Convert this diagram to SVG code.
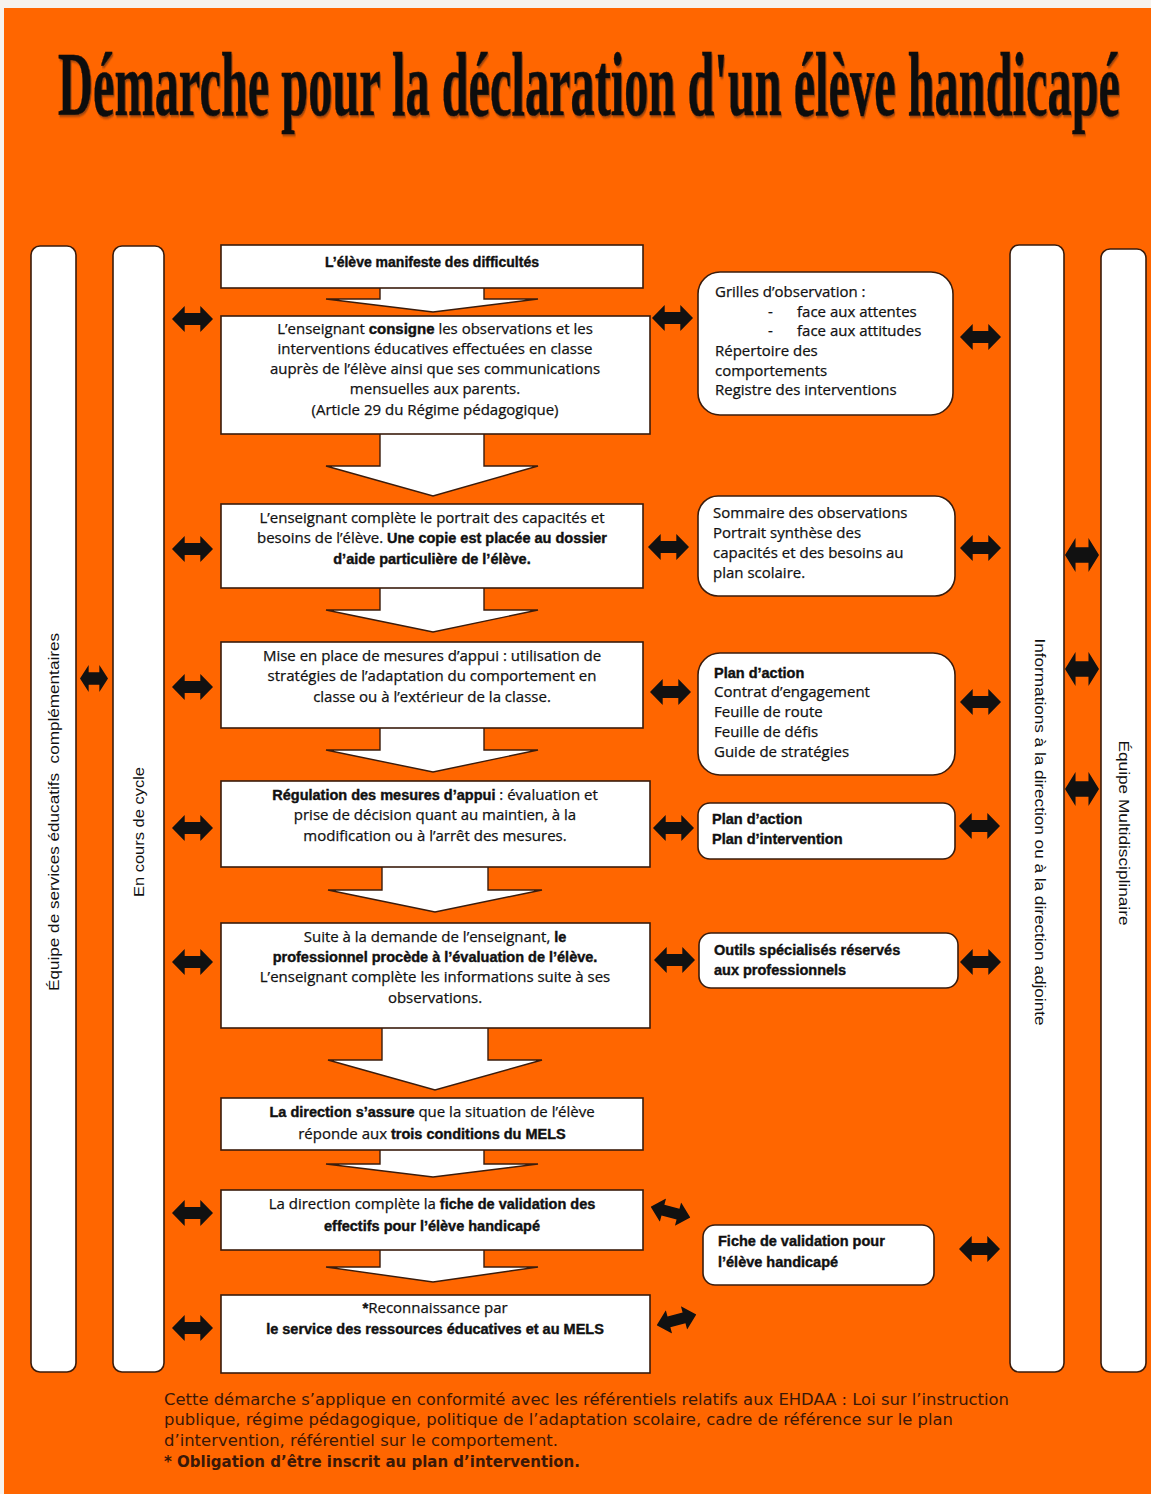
<svg xmlns="http://www.w3.org/2000/svg" width="1151" height="1494" viewBox="0 0 1151 1494">
<style>
.bg{fill:#FF6600}
.bx{fill:#fff;stroke:#3a1c0c;stroke-width:1.6}
.col{fill:#fff;stroke:#3a1c0c;stroke-width:1.6}
.ar{fill:#fff;stroke:#3a1c0c;stroke-width:1.4;stroke-linejoin:miter}
.t{font-family:"Open Sans","Liberation Sans",sans-serif;font-size:15px;fill:#111;stroke:#111;stroke-width:0.25}
.c{text-anchor:middle}
.b{font-family:"Liberation Sans",Arial,sans-serif;font-weight:700;stroke:#111;stroke-width:0.4;fill:#111}
.vt{font-family:"Liberation Sans",Arial,sans-serif;font-size:15px;fill:#111;text-anchor:middle}
.note{font-family:"DejaVu Sans Condensed","Open Sans",sans-serif;font-size:15.5px;fill:#3a1808}
.title{font-family:"Liberation Serif","Times New Roman",serif;font-weight:700;font-size:92px;fill:#111;stroke:#111;stroke-width:0.6}
</style>
<defs>
<symbol id="da" viewBox="0 0 42 26" preserveAspectRatio="none">
<path d="M0,13 L13,0 L13,7 L29,7 L29,0 L42,13 L29,26 L29,19 L13,19 L13,26 Z" fill="#111"/>
</symbol>
<filter id="sh" x="-5%" y="-20%" width="110%" height="140%">
<feDropShadow dx="2" dy="2" stdDeviation="1" flood-color="#5a2a10" flood-opacity="0.6"/>
</filter>
</defs>
<rect x="0" y="0" width="1151" height="1494" fill="#f6f3ee"/>
<rect class="bg" x="4" y="8" width="1147" height="1486"/>

<g id="title">
<text class="title" transform="translate(58,115) scale(0.5,1)" x="0" y="0" textLength="2124" lengthAdjust="spacingAndGlyphs" filter="url(#sh)">Démarche pour la déclaration d'un élève handicapé</text>
</g>

<g id="col-equipe-services">
<rect class="col" x="31" y="246" width="45" height="1126" rx="9"/>
<text class="vt" transform="translate(59,812) rotate(-90)" textLength="358" lengthAdjust="spacingAndGlyphs">Équipe de services éducatifs&#160; complémentaires</text>
</g>
<g id="col-cycle">
<rect class="col" x="113" y="246" width="51" height="1126" rx="9"/>
<text class="vt" transform="translate(144,832) rotate(-90)" textLength="130" lengthAdjust="spacingAndGlyphs">En cours de cycle</text>
</g>
<g id="col-direction">
<rect class="col" x="1010" y="245" width="54" height="1127" rx="9"/>
<text class="vt" transform="translate(1035,832) rotate(90)" textLength="387" lengthAdjust="spacingAndGlyphs">Informations à la direction ou à la direction adjointe</text>
</g>
<g id="col-multi">
<rect class="col" x="1101" y="249" width="45" height="1123" rx="9"/>
<text class="vt" transform="translate(1119,833) rotate(90)" textLength="185" lengthAdjust="spacingAndGlyphs">Équipe Multidisciplinaire</text>
</g>

<g id="connectors">
<path class="ar" d="M380,288 L380,299 L326,299 L433,312 L538,299 L484,299 L484,288"/>
<path class="ar" d="M380,434 L380,466 L326,466 L433,496 L538,466 L484,466 L484,434"/>
<path class="ar" d="M380,588 L380,610 L326,610 L433,632 L538,610 L484,610 L484,588"/>
<path class="ar" d="M380,728 L380,750 L326,750 L433,772 L538,750 L484,750 L484,728"/>
<path class="ar" d="M382,867 L382,890 L328,890 L435,912 L542,890 L488,890 L488,867"/>
<path class="ar" d="M382,1028 L382,1060 L328,1060 L435,1090 L542,1060 L488,1060 L488,1028"/>
<path class="ar" d="M380,1150 L380,1164 L326,1164 L433,1177 L538,1164 L484,1164 L484,1150"/>
<path class="ar" d="M380,1250 L380,1267 L326,1267 L433,1282 L538,1267 L484,1267 L484,1250"/>
<use href="#da" x="80" y="665" width="28" height="27"/>
<use href="#da" x="172" y="306" width="41" height="26"/>
<use href="#da" x="172" y="536" width="41" height="26"/>
<use href="#da" x="172" y="674" width="41" height="26"/>
<use href="#da" x="172" y="815" width="41" height="26"/>
<use href="#da" x="172" y="949" width="41" height="26"/>
<use href="#da" x="172" y="1200" width="41" height="26"/>
<use href="#da" x="172" y="1315" width="41" height="26"/>
<use href="#da" x="652" y="305" width="41" height="26"/>
<use href="#da" x="648" y="534" width="41" height="26"/>
<use href="#da" x="650" y="679" width="41" height="26"/>
<use href="#da" x="653" y="815" width="41" height="26"/>
<use href="#da" x="654" y="947" width="41" height="26"/>
<use href="#da" x="650" y="1200" width="41" height="24" transform="rotate(15 670 1212)"/>
<use href="#da" x="656" y="1308" width="41" height="24" transform="rotate(-15 676 1320)"/>
<use href="#da" x="960" y="324" width="41" height="26"/>
<use href="#da" x="960" y="535" width="41" height="26"/>
<use href="#da" x="960" y="689" width="41" height="26"/>
<use href="#da" x="959" y="813" width="41" height="26"/>
<use href="#da" x="960" y="949" width="41" height="26"/>
<use href="#da" x="959" y="1236" width="41" height="26"/>
<use href="#da" x="1065" y="538" width="34" height="34"/>
<use href="#da" x="1065" y="652" width="34" height="34"/>
<use href="#da" x="1065" y="772" width="34" height="34"/>
</g>

<g id="step1">
<rect class="bx" x="221" y="245" width="422" height="43"/>
<text class="t c" x="432" y="267"><tspan class="b" font-size="14">L’élève manifeste des difficultés</tspan></text>
</g>
<g id="step2">
<rect class="bx" x="221" y="316" width="429" height="118"/>
<text class="t c" x="435" y="334">L’enseignant <tspan class="b">consigne</tspan> les observations et les</text>
<text class="t c" x="435" y="354">interventions éducatives effectuées en classe</text>
<text class="t c" x="435" y="374">auprès de l’élève ainsi que ses communications</text>
<text class="t c" x="435" y="394">mensuelles aux parents.</text>
<text class="t c" x="435" y="415">(Article 29 du Régime pédagogique)</text>
</g>
<g id="step3">
<rect class="bx" x="221" y="504" width="422" height="84"/>
<text class="t c" x="432" y="523">L’enseignant complète le portrait des capacités et</text>
<text class="t c" x="432" y="543">besoins de l’élève. <tspan class="b" font-size="14.5">Une copie est placée au dossier</tspan></text>
<text class="t c" x="432" y="564"><tspan class="b" font-size="14.5">d’aide particulière de l’élève.</tspan></text>
</g>
<g id="step4">
<rect class="bx" x="221" y="642" width="422" height="86"/>
<text class="t c" x="432" y="661">Mise en place de mesures d’appui : utilisation de</text>
<text class="t c" x="432" y="681">stratégies de l’adaptation du comportement en</text>
<text class="t c" x="432" y="702">classe ou à l’extérieur de la classe.</text>
</g>
<g id="step5">
<rect class="bx" x="221" y="781" width="429" height="86"/>
<text class="t c" x="435" y="800"><tspan class="b" font-size="14.5">Régulation des mesures d’appui</tspan> : évaluation et</text>
<text class="t c" x="435" y="820">prise de décision quant au maintien, à la</text>
<text class="t c" x="435" y="841">modification ou à l’arrêt des mesures.</text>
</g>
<g id="step6">
<rect class="bx" x="221" y="923" width="429" height="105"/>
<text class="t c" x="435" y="942">Suite à la demande de l’enseignant, <tspan class="b" font-size="14.5">le</tspan></text>
<text class="t c" x="435" y="962"><tspan class="b" font-size="14.5">professionnel procède à l’évaluation de l’élève.</tspan></text>
<text class="t c" x="435" y="982">L’enseignant complète les informations suite à ses</text>
<text class="t c" x="435" y="1003">observations.</text>
</g>
<g id="step7">
<rect class="bx" x="221" y="1098" width="422" height="52"/>
<text class="t c" x="432" y="1117"><tspan class="b" font-size="14.5">La direction s’assure</tspan> que la situation de l’élève</text>
<text class="t c" x="432" y="1139">réponde aux <tspan class="b" font-size="14.5">trois conditions du MELS</tspan></text>
</g>
<g id="step8">
<rect class="bx" x="221" y="1190" width="422" height="60"/>
<text class="t c" x="432" y="1209">La direction complète la <tspan class="b" font-size="14.5">fiche de validation des</tspan></text>
<text class="t c" x="432" y="1231"><tspan class="b" font-size="14.5">effectifs pour l’élève handicapé</tspan></text>
</g>
<g id="step9">
<rect class="bx" x="221" y="1295" width="429" height="78"/>
<text class="t c" x="435" y="1313"><tspan class="b">*</tspan>Reconnaissance par</text>
<text class="t c" x="435" y="1334"><tspan class="b" font-size="14.5">le service des ressources éducatives et au MELS</tspan></text>
</g>

<g id="tools-grilles">
<rect class="bx" x="698" y="272" width="255" height="143" rx="22"/>
<text class="t" x="715" y="297">Grilles d’observation :</text>
<text class="t" x="768" y="317">-</text><text class="t" x="797" y="317">face aux attentes</text>
<text class="t" x="768" y="336">-</text><text class="t" x="797" y="336">face aux attitudes</text>
<text class="t" x="715" y="356">Répertoire des</text>
<text class="t" x="715" y="376">comportements</text>
<text class="t" x="715" y="395">Registre des interventions</text>
</g>
<g id="tools-sommaire">
<rect class="bx" x="698" y="496" width="257" height="100" rx="20"/>
<text class="t" x="713" y="518">Sommaire des observations</text>
<text class="t" x="713" y="538">Portrait synthèse des</text>
<text class="t" x="713" y="558">capacités et des besoins au</text>
<text class="t" x="713" y="578">plan scolaire.</text>
</g>
<g id="tools-plan">
<rect class="bx" x="698" y="653" width="257" height="122" rx="22"/>
<text class="t" x="714" y="678"><tspan class="b" font-size="14.5">Plan d’action</tspan></text>
<text class="t" x="714" y="697">Contrat d’engagement</text>
<text class="t" x="714" y="717">Feuille de route</text>
<text class="t" x="714" y="737">Feuille de défis</text>
<text class="t" x="714" y="757">Guide de stratégies</text>
</g>
<g id="tools-plans">
<rect class="bx" x="698" y="803" width="257" height="56" rx="12"/>
<text class="t" x="712" y="824"><tspan class="b" font-size="14.5">Plan d’action</tspan></text>
<text class="t" x="712" y="844"><tspan class="b" font-size="14.5">Plan d’intervention</tspan></text>
</g>
<g id="tools-outils">
<rect class="bx" x="699" y="933" width="259" height="55" rx="12"/>
<text class="t" x="714" y="955"><tspan class="b" font-size="14.5">Outils spécialisés réservés</tspan></text>
<text class="t" x="714" y="975"><tspan class="b" font-size="14.5">aux professionnels</tspan></text>
</g>
<g id="tools-fiche">
<rect class="bx" x="703" y="1225" width="231" height="60" rx="12"/>
<text class="t" x="718" y="1246"><tspan class="b" font-size="14.5">Fiche de validation pour</tspan></text>
<text class="t" x="718" y="1267"><tspan class="b" font-size="14.5">l’élève handicapé</tspan></text>
</g>

<g id="note">
<text class="note" x="164" y="1405" textLength="845" lengthAdjust="spacingAndGlyphs">Cette démarche s’applique en conformité avec les référentiels relatifs aux EHDAA : Loi sur l’instruction</text>
<text class="note" x="164" y="1425" textLength="789" lengthAdjust="spacingAndGlyphs">publique, régime pédagogique, politique de l’adaptation scolaire, cadre de référence sur le plan</text>
<text class="note" x="164" y="1446" textLength="394" lengthAdjust="spacingAndGlyphs">d’intervention, référentiel sur le comportement.</text>
<text class="note" x="164" y="1467" textLength="416" lengthAdjust="spacingAndGlyphs" font-weight="700">* Obligation d’être inscrit au plan d’intervention.</text>
</g>
</svg>
